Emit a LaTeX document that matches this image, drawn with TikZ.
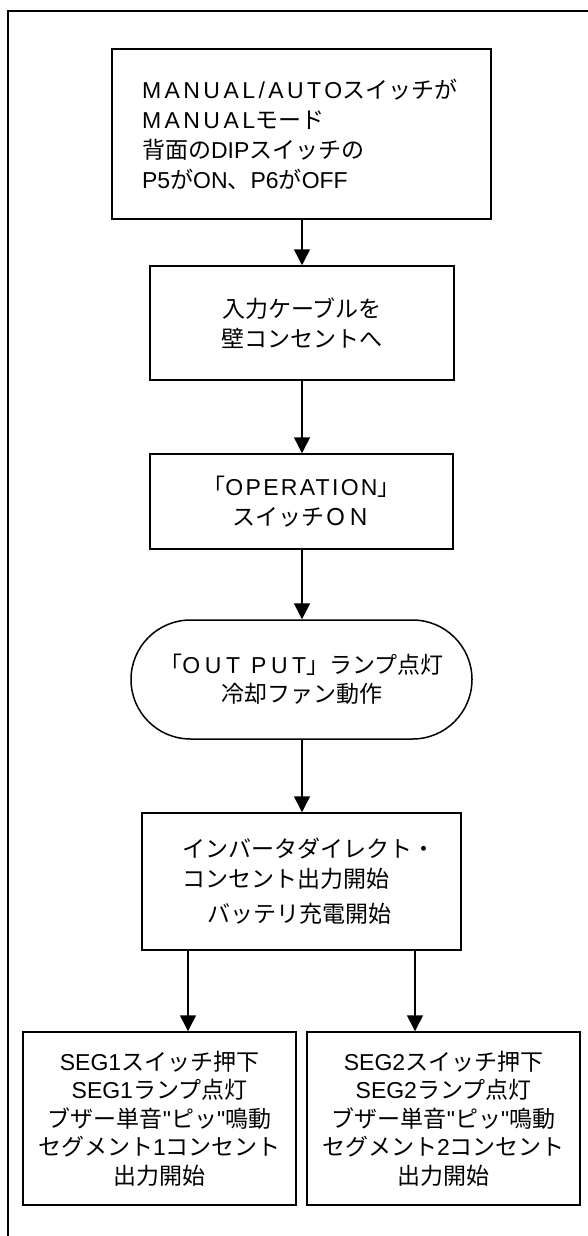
\documentclass[tikz,border=0pt]{standalone}
\usepackage{fontspec}
\setmainfont{Noto Sans CJK JP}
\newfontfamily\latinfont{Liberation Sans}
\newfontfamily\latinwide[LetterSpace=15]{Liberation Sans}
\newfontfamily\latinmid[LetterSpace=10]{Liberation Sans}
\newfontfamily\latinxwide[LetterSpace=20]{Liberation Sans}
\newcommand\la[1]{{\latinfont #1}}
\newcommand\lw[1]{{\latinwide #1}}
\newcommand\lm[1]{{\latinmid #1}}
\newcommand\lx[1]{{\latinxwide #1}}
\usetikzlibrary{arrows.meta,shapes.misc}
\begin{document}
\begin{tikzpicture}[x=1pt,y=-1pt,
  boxstyle/.style={draw,line width=1.5pt,rectangle,inner sep=0pt,
    font=\fontsize{23}{30}\selectfont},
  tabstyle/.style={draw,line width=1.5pt,rounded rectangle,inner sep=0pt,
    font=\fontsize{23}{29}\selectfont},
  arr/.style={line width=1.5pt,-{Triangle[width=16pt,length=16pt]}},
  frame/.style={line width=2.5pt}]
\useasboundingbox (0,0) rectangle (588,1236);
\draw[frame] (8,1236) -- (8,11) -- (588,11);

\node[boxstyle,minimum width=379,minimum height=170,text width=319,
  inner xsep=30pt,align=left] (b1) at (301.5,134)
  {\lw{MANUAL/AUTO}スイッチが\\\lw{MANUAL}モード\\背面の\la{DIP}スイッチの\\\la{P5}が\la{ON}、\la{P6}が\la{OFF}};
\node[boxstyle,minimum width=304,minimum height=114,align=center] (b2) at (302,323)
  {入力ケーブルを\\壁コンセントへ};
\node[boxstyle,minimum width=303,minimum height=95,align=center] (b3) at (301.5,501.5)
  {「\lm{OPERATION}」\\スイッチＯＮ};
\node[tabstyle,minimum width=341,minimum height=119,align=center] (b4) at (301.5,679.5)
  {「\lx{OUT PUT}」ランプ点灯\\冷却ファン動作};
\node[boxstyle,minimum width=319,minimum height=137,text width=239,
  inner xsep=40pt,align=left] (b5) at (301.5,881.5)
  {インバータダイレクト・\\コンセント出力開始\\[5pt]\hspace*{25pt}バッテリ充電開始};
\node[boxstyle,minimum width=273,minimum height=173,align=center,
  font=\fontsize{23}{28.5}\selectfont] (s1) at (159.5,1118.5)
  {\la{SEG1}スイッチ押下\\\la{SEG1}ランプ点灯\\ブザー単音\la{"}ピッ\la{"}鳴動\\セグメント\la{1}コンセント\\出力開始};
\node[boxstyle,minimum width=273,minimum height=173,align=center,
  font=\fontsize{23}{28.5}\selectfont] (s2) at (443.5,1118.5)
  {\la{SEG2}スイッチ押下\\\la{SEG2}ランプ点灯\\ブザー単音\la{"}ピッ\la{"}鳴動\\セグメント\la{2}コンセント\\出力開始};

\coordinate (cx) at (302,0);
\coordinate (c1) at (188,0);
\coordinate (c2) at (415,0);
\draw[arr] (b1.south -| cx) -- (b2.north -| cx);
\draw[arr] (b2.south -| cx) -- (b3.north -| cx);
\draw[arr] (b3.south -| cx) -- (b4.north -| cx);
\draw[arr] (b4.south -| cx) -- (b5.north -| cx);
\draw[arr] (b5.south -| c1) -- (s1.north -| c1);
\draw[arr] (b5.south -| c2) -- (s2.north -| c2);
\end{tikzpicture}
\end{document}
